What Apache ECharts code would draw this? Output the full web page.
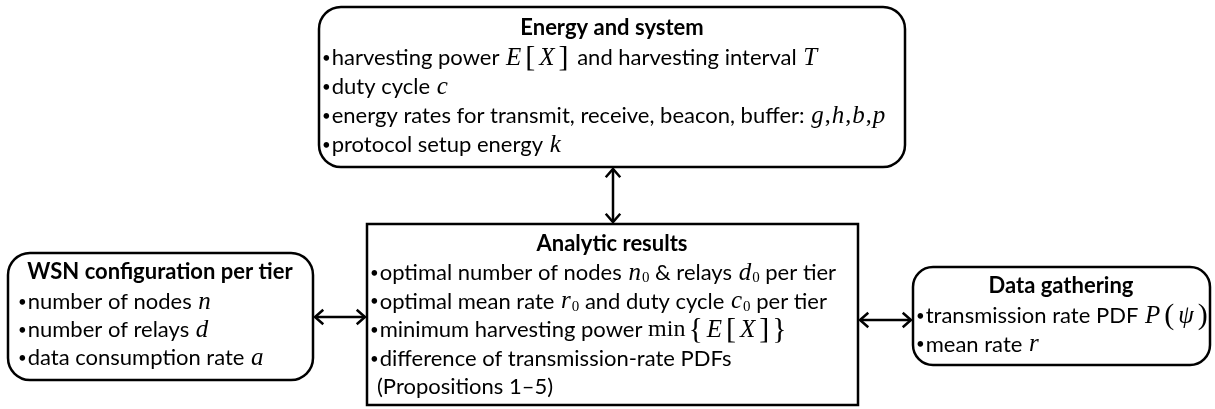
<html>
<head>
    <meta charset="utf-8" />
    <script src="https://cdn.jsdelivr.net/npm/echarts@6/dist/echarts.min.js"></script>
    <title>Analytic model diagram</title>
    <style>
        body { margin: 0; background: #fff; overflow: hidden; }
        #main { width: 1215px; height: 409px; }
    </style>
</head>
<body>
    <div id="main"></div>
    <script type="text/javascript">
        // box titles and bullet lines ({m|..} = math italic, {b|..} = brackets, {r|..} = upright math, {s|..} = subscript)
        var energyTitle = 'Energy and system';
        var energyLines = [
            'harvesting power {m|E}{b|[}{m|X}{b|]} and harvesting interval {m|T}',
            'duty cycle {m|c}',
            'energy rates for transmit, receive, beacon, buffer: {m|g}{r|,}{m|h}{r|,}{m|b}{r|,}{m|p}',
            'protocol setup energy {m|k}'
        ];
        var wsnTitle = 'WSN configuration per tier';
        var wsnLines = [
            'number of nodes {m|n}',
            'number of relays {m|d}',
            'data consumption rate {m|a}'
        ];
        var resultTitle = 'Analytic results';
        var resultLines = [
            'optimal number of nodes {m|n}{s|0} & relays {m|d}{s|0} per tier',
            'optimal mean rate {m|r}{s|0} and duty cycle {m|c}{s|0} per tier',
            'minimum harvesting power {r|min}{b|{}{m|E}{b|[}{m|X}{b|]}}',
            'difference of transmission-rate PDFs',
            ' (Propositions 1\u20135)'
        ];
        var gatherTitle = 'Data gathering';
        var gatherLines = [
            'transmission rate PDF {m|P}{b|(}{m|\u03c8}{b|)}',
            'mean rate {m|r}'
        ];

        var chart = echarts.init(document.getElementById('main'), null, { renderer: 'canvas' });

        var baseFont = 'Lato';
        var bodySize = 22;
        var rich = {
            n: { fontFamily: baseFont, fontSize: bodySize, fill: '#000' },
            u: { fontFamily: baseFont, fontSize: 15, fill: '#000', padding: [0, 1, 0, 0] },
            m: { fontFamily: 'Liberation Serif', fontStyle: 'italic', fontSize: 25, fill: '#000', padding: [0, 1, 0, 1] },
            r: { fontFamily: 'Liberation Serif', fontSize: 24, fill: '#000' },
            b: { fontFamily: 'Liberation Serif', fontSize: 30, fill: '#000', padding: [0, 3, 0, 3] },
            s: { fontFamily: 'Liberation Serif', fontSize: 15, fill: '#000', verticalAlign: 'bottom' }
        };

        // wrap plain text in {n|..}; a lone "}" stays plain and takes the element's bracket font
        function toRich(t) {
            var out = '', last = 0, re = /\{[a-zA-Z0-9_]+\|[^}]*\}/g, mt;
            function plain(s) {
                if (!s) return '';
                return s.split('}').map(function (p) { return p ? '{n|' + p + '}' : ''; }).join('}');
            }
            while ((mt = re.exec(t))) {
                out += plain(t.slice(last, mt.index)) + mt[0];
                last = mt.index + mt[0].length;
            }
            return out + plain(t.slice(last));
        }

        function box(x, y, w, h, r) {
            return {
                type: 'rect',
                shape: { x: x, y: y, width: w, height: h, r: r },
                style: { fill: '#fff', stroke: '#000', lineWidth: 2.5 }
            };
        }

        function title(text, cx, cy) {
            return {
                type: 'text', x: cx, y: cy,
                style: {
                    text: text, fontFamily: baseFont, fontWeight: 'bold', fontSize: 22,
                    fill: '#000', align: 'center', verticalAlign: 'middle'
                }
            };
        }

        function bullets(lines, x, y0, step) {
            return lines.map(function (t, i) {
                var indent = t.charAt(0) === ' ';
                var body = toRich(indent ? t.slice(1) : t);
                return {
                    type: 'text', x: x + (indent ? 7 : 0), y: y0 + i * step,
                    style: {
                        text: (indent ? '' : '{u|\u2022}') + body,
                        fontFamily: 'Liberation Serif', fontSize: 30,
                        fill: '#000', align: 'left', verticalAlign: 'middle', rich: rich
                    }
                };
            });
        }

        function arrow(x1, y1, x2, y2) {
            var a = Math.atan2(y2 - y1, x2 - x1), L = 11, s = 0.72;
            function head(px, py, ang) {
                return {
                    type: 'polyline',
                    shape: { points: [
                        [px - L * Math.cos(ang - s), py - L * Math.sin(ang - s)],
                        [px, py],
                        [px - L * Math.cos(ang + s), py - L * Math.sin(ang + s)]
                    ] },
                    style: { stroke: '#000', lineWidth: 2.5, fill: null }
                };
            }
            return [
                { type: 'line', shape: { x1: x1, y1: y1, x2: x2, y2: y2 }, style: { stroke: '#000', lineWidth: 2.5 } },
                head(x2, y2, a),
                head(x1, y1, a + Math.PI)
            ];
        }

        var elements = [];
        elements.push(box(319, 7, 586, 160, 22));
        elements.push(box(367, 224, 491, 181, 0));
        elements.push(box(8, 253, 305, 127, 22));
        elements.push(box(913, 267, 297, 98, 20));

        elements.push(title(energyTitle, 612, 28));
        elements = elements.concat(bullets(energyLines, 322, 58, 29));
        elements.push(title(wsnTitle, 160, 272));
        elements = elements.concat(bullets(wsnLines, 18, 302, 28));
        elements.push(title(resultTitle, 612, 244));
        elements = elements.concat(bullets(resultLines, 370, 273, 28.6));
        elements.push(title(gatherTitle, 1061, 286));
        elements = elements.concat(bullets(gatherLines, 916, 316, 28.5));

        elements = elements.concat(arrow(613, 169, 613, 222));
        elements = elements.concat(arrow(315, 317, 365, 317));
        elements = elements.concat(arrow(860, 320, 911, 320));

        chart.setOption({
            animation: false,
            graphic: { elements: elements }
        });
    </script>
</body>
</html>
